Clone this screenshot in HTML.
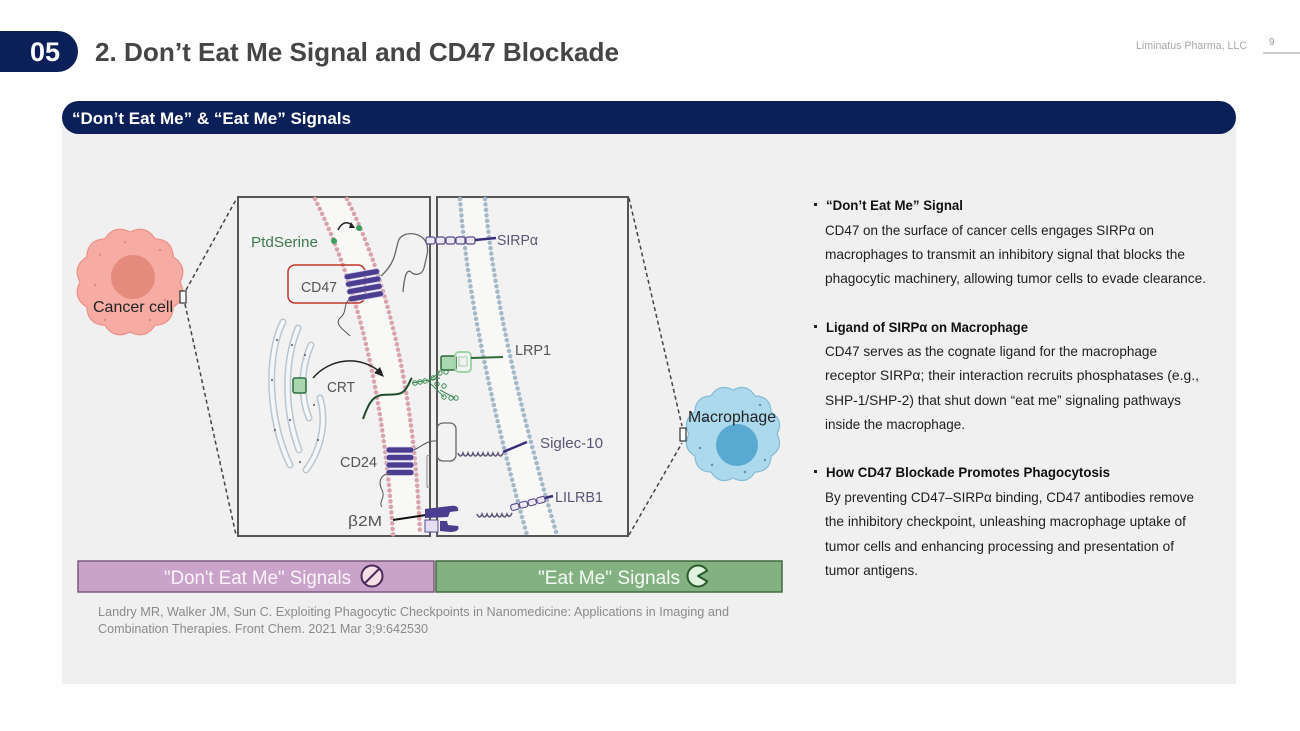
<!DOCTYPE html>
<html><head><meta charset="utf-8"><style>
html,body{margin:0;padding:0;background:#fefefe;}
svg{display:block;font-family:"Liberation Sans",Arial,sans-serif;}
</style></head><body>
<svg width="1300" height="731" viewBox="0 0 1300 731" xmlns="http://www.w3.org/2000/svg">
<rect width="1300" height="731" fill="#fefefe"/>
<!-- header -->
<path d="M0,31 H57.5 A20.5,20.5 0 0 1 57.5,72 H0 Z" fill="#0b2058"/>
<text x="45" y="61" font-size="27" font-weight="bold" fill="#fff" text-anchor="middle">05</text>
<text x="95" y="61" font-size="26" font-weight="bold" fill="#454545" textLength="524" lengthAdjust="spacingAndGlyphs">2. Don’t Eat Me Signal and CD47 Blockade</text>
<text x="1136" y="49" font-size="11" fill="#a8a8a8" textLength="111" lengthAdjust="spacingAndGlyphs">Liminatus Pharma, LLC</text>
<text x="1269" y="45" font-size="10" fill="#999">9</text>
<line x1="1263" y1="53" x2="1300" y2="53" stroke="#999" stroke-width="1"/>
<!-- panel -->
<rect x="62" y="118" width="1174" height="566" fill="#f0f0f0"/>
<rect x="62" y="101" width="1174" height="33" rx="16.5" fill="#0b2058"/>
<text x="72" y="124" font-size="17" font-weight="bold" fill="#fff" textLength="279" lengthAdjust="spacingAndGlyphs">“Don’t Eat Me” &amp; “Eat Me” Signals</text>

<!-- cancer cell -->
<path d="M180,282 Q188,297.5 173.3,307 Q172.4,324.4 155,325.3 Q145.5,339.9 130,332 Q114.5,339.9 105,325.3 Q87.6,324.4 86.7,307 Q72,297.5 80,282 Q72,266.5 86.7,257 Q87.6,239.6 105,238.7 Q114.5,224.1 130,232 Q145.5,224.1 155,238.7 Q172.4,239.6 173.3,257 Q188,266.5 180,282 Z" fill="#f6aba3" stroke="#eb9087" stroke-width="1.2"/>
<circle cx="133" cy="277" r="22" fill="#e58b7d"/>
<g fill="#d98a80"><circle cx="100" cy="255" r="1.2"/><circle cx="160" cy="250" r="1.2"/><circle cx="165" cy="300" r="1.2"/><circle cx="105" cy="320" r="1.2"/><circle cx="150" cy="320" r="1.2"/><circle cx="95" cy="285" r="1.2"/><circle cx="125" cy="242" r="1.2"/></g>
<text x="93" y="312" font-size="16" fill="#222" textLength="80" lengthAdjust="spacingAndGlyphs">Cancer cell</text>
<rect x="180" y="291" width="6" height="12" fill="#fff" stroke="#333" stroke-width="1.2"/>
<line x1="186" y1="290" x2="237" y2="198" stroke="#444" stroke-width="1.5" stroke-dasharray="4,3"/>
<line x1="185" y1="304" x2="236" y2="535" stroke="#444" stroke-width="1.5" stroke-dasharray="4,3"/>

<!-- macrophage -->
<line x1="629" y1="198" x2="682" y2="426" stroke="#444" stroke-width="1.5" stroke-dasharray="4,3"/>
<line x1="629" y1="535" x2="682" y2="443" stroke="#444" stroke-width="1.5" stroke-dasharray="4,3"/>
<path d="M777,434 Q784.2,447.7 771.1,456 Q770.5,471.5 755,472.1 Q746.7,485.2 733,478 Q719.3,485.2 711,472.1 Q695.5,471.5 694.9,456 Q681.8,447.7 689,434 Q681.8,420.3 694.9,412 Q695.5,396.5 711,395.9 Q719.3,382.8 733,390 Q746.7,382.8 755,395.9 Q770.5,396.5 771.1,412 Q784.2,420.3 777,434 Z" fill="#acd9ec" stroke="#84bcd6" stroke-width="1.2"/>
<circle cx="737" cy="445" r="21" fill="#5aa9d2"/>
<g fill="#5a90b0"><circle cx="705" cy="420" r="1.2"/><circle cx="760" cy="405" r="1.2"/><circle cx="765" cy="460" r="1.2"/><circle cx="712" cy="465" r="1.2"/><circle cx="745" cy="472" r="1.2"/><circle cx="700" cy="448" r="1.2"/></g>
<text x="688" y="422" font-size="16" fill="#222" textLength="88" lengthAdjust="spacingAndGlyphs">Macrophage</text>
<rect x="680" y="428" width="6" height="13" fill="#fff" stroke="#333" stroke-width="1.2"/>

<!-- boxes -->
<rect x="238" y="197" width="192" height="339" fill="#f2f2f2" stroke="#555" stroke-width="2"/>
<rect x="437" y="197" width="191" height="339" fill="#f2f2f2" stroke="#555" stroke-width="2"/>

<!-- membranes -->
<path d="M315,199 Q380,330 393,535 L420,535 Q412,330 347,199 Z" fill="#f8f8f6"/>
<path d="M315,199 Q380,330 393,535" fill="none" stroke="#d9a3ab" stroke-width="4.5" stroke-linecap="round" stroke-dasharray="0,5.5"/>
<path d="M347,199 Q412,330 420,535" fill="none" stroke="#d9a3ab" stroke-width="4.5" stroke-linecap="round" stroke-dasharray="0,5.5"/>
<path d="M460,199 Q470,330 527,535 L557,535 Q496,330 485,199 Z" fill="#f8f8f6"/>
<path d="M460,199 Q470,330 527,535" fill="none" stroke="#a3b9c8" stroke-width="4.5" stroke-linecap="round" stroke-dasharray="0,5.5"/>
<path d="M485,199 Q496,330 557,535" fill="none" stroke="#a3b9c8" stroke-width="4.5" stroke-linecap="round" stroke-dasharray="0,5.5"/>

<!-- ER -->
<g fill="none" stroke-linecap="round">
<g stroke="#b9c6cf" stroke-width="7">
<path d="M283,322 C266,355 268,420 290,465"/>
<path d="M298,328 C284,362 284,410 299,450"/>
<path d="M311,345 C300,370 301,398 309,418"/>
<path d="M320,398 C327,422 321,450 306,470"/>
</g>
<g stroke="#f4f6f7" stroke-width="4">
<path d="M283,322 C266,355 268,420 290,465"/>
<path d="M298,328 C284,362 284,410 299,450"/>
<path d="M311,345 C300,370 301,398 309,418"/>
<path d="M320,398 C327,422 321,450 306,470"/>
</g>
</g>
<g fill="#556"><circle cx="277" cy="340" r="1"/><circle cx="272" cy="380" r="1"/><circle cx="275" cy="430" r="1"/><circle cx="292" cy="345" r="1"/><circle cx="290" cy="420" r="1"/><circle cx="305" cy="355" r="1"/><circle cx="314" cy="405" r="1"/><circle cx="318" cy="440" r="1"/><circle cx="300" cy="462" r="1"/></g>

<!-- PtdSerine -->
<text x="251" y="247" font-size="15" fill="#3f7a50" textLength="67" lengthAdjust="spacingAndGlyphs">PtdSerine</text>
<circle cx="334" cy="241" r="3" fill="#3aa060"/>
<circle cx="359" cy="228" r="3" fill="#3aa060"/>
<path d="M338,230 Q344,218 353,226" fill="none" stroke="#222" stroke-width="1.5"/>
<path d="M351,222 L355,228 L349,228 Z" fill="#222"/>

<!-- CD47 -->
<rect x="288" y="265" width="77" height="38" rx="7" fill="none" stroke="#c0392b" stroke-width="1.5"/>
<text x="301" y="292" font-size="15" fill="#555" textLength="36" lengthAdjust="spacingAndGlyphs">CD47</text>
<g transform="translate(364,286) rotate(-10)" fill="#4b3d8f" stroke="#d8d2ee" stroke-width="0.8">
<rect x="-18" y="-15" width="36" height="6" rx="3"/>
<rect x="-18" y="-7.5" width="36" height="6" rx="3"/>
<rect x="-18" y="0" width="36" height="6" rx="3"/>
<rect x="-18" y="7.5" width="36" height="6" rx="3"/>
</g>
<path d="M350,299 C342,305 348,312 340,318 C334,324 344,330 350,336" fill="none" stroke="#555" stroke-width="1"/>
<path d="M381,276 C390,268 394,260 396,250 L398,242 C400,234 410,232 418,235 C426,238 429,246 427,255 L424,268 C422,275 415,276 411,272 C406,268 404,280 403,292" fill="none" stroke="#666" stroke-width="1.3"/>

<!-- SIRPa -->
<g fill="#ece8f4" stroke="#5a4a8a" stroke-width="1.2">
<rect x="426" y="237" width="9" height="7" rx="2"/>
<rect x="436" y="237" width="9" height="7" rx="2"/>
<rect x="446" y="237" width="9" height="7" rx="2"/>
<rect x="456" y="237" width="9" height="7" rx="2"/>
<rect x="466" y="237" width="9" height="7" rx="2"/>
</g>
<line x1="475" y1="240" x2="496" y2="238" stroke="#3a2d7a" stroke-width="2.5"/>
<text x="497" y="245" font-size="15" fill="#5c5475" textLength="41" lengthAdjust="spacingAndGlyphs">SIRPα</text>

<!-- CRT -->
<path d="M313,378 C330,358 360,355 380,372" fill="none" stroke="#222" stroke-width="1.5"/>
<path d="M384,377 L374,373 L380,367 Z" fill="#222"/>
<rect x="293" y="378" width="13" height="15" rx="2" fill="#a9d8b0" stroke="#2d6b3d" stroke-width="1.5"/>
<text x="327" y="392" font-size="15" fill="#555" textLength="28" lengthAdjust="spacingAndGlyphs">CRT</text>
<path d="M363,419 C368,405 372,396 382,395 C392,394 400,396 405,390 C409,385 410,380 412,378" fill="none" stroke="#1f4d2c" stroke-width="2"/>
<g fill="none" stroke="#3d8a55" stroke-width="1">
<path d="M412,383 L440,378 M428,381 L440,372 M428,381 L444,397 M440,390 L455,398"/>
<circle cx="415" cy="383" r="2.2"/><circle cx="420" cy="382" r="2.2"/><circle cx="425" cy="381" r="2.2"/>
<circle cx="433" cy="378" r="2.2"/><circle cx="440" cy="373" r="2.2"/><circle cx="446" cy="372" r="2.2"/>
<circle cx="444" cy="386" r="2.2"/><circle cx="444" cy="397" r="2.2"/><circle cx="451" cy="398" r="2.2"/><circle cx="456" cy="398" r="2.2"/>
<circle cx="437" cy="384" r="2.2"/>
</g>
<!-- LRP1 -->
<rect x="441" y="356" width="15" height="14" rx="1.5" fill="#a9d8b0" stroke="#2d6b3d" stroke-width="1.5"/>
<rect x="455" y="352" width="16" height="20" rx="4" fill="none" stroke="#9fd3a8" stroke-width="2"/>
<rect x="459" y="357" width="8" height="9" fill="none" stroke="#9fd3a8" stroke-width="1"/>
<line x1="471" y1="358" x2="503" y2="357" stroke="#2d6b3d" stroke-width="2"/>
<text x="515" y="355" font-size="15" fill="#555" textLength="36" lengthAdjust="spacingAndGlyphs">LRP1</text>

<!-- CD24 -->
<text x="340" y="467" font-size="15" fill="#555" textLength="37" lengthAdjust="spacingAndGlyphs">CD24</text>
<g fill="#4b3d8f" stroke="#d8d2ee" stroke-width="0.8">
<rect x="386" y="447" width="28" height="6" rx="3"/>
<rect x="386" y="454.5" width="28" height="6" rx="3"/>
<rect x="386" y="462" width="28" height="6" rx="3"/>
<rect x="386" y="469.5" width="28" height="6" rx="3"/>
</g>
<path d="M391,473 C380,474 378,482 382,490 C386,498 378,502 382,507" fill="none" stroke="#555" stroke-width="1"/>
<path d="M414,450 C422,446 428,440 437,441" fill="none" stroke="#555" stroke-width="1"/>
<!-- Siglec-10 -->
<rect x="437" y="423" width="19" height="38" rx="6" fill="none" stroke="#666" stroke-width="1.3"/>
<path d="M430,455 L427,456 L427,487 L430,487" fill="none" stroke="#888" stroke-width="1"/>
<path d="M458,453 q2.5,6 5,0 q2.5,6 5,0 q2.5,6 5,0 q2.5,6 5,0 q2.5,6 5,0 q2.5,6 5,0 q2.5,6 5,0 q2.5,6 5,0 q2.5,6 5,0" fill="none" stroke="#5c5475" stroke-width="1.6"/>
<line x1="503" y1="452" x2="527" y2="442" stroke="#3a2d7a" stroke-width="2.5"/>
<text x="540" y="448" font-size="15" fill="#5c5475" textLength="63" lengthAdjust="spacingAndGlyphs">Siglec-10</text>

<!-- LILRB1 -->
<path d="M477,514 q2.5,6 5,0 q2.5,6 5,0 q2.5,6 5,0 q2.5,6 5,0 q2.5,6 5,0 q2.5,6 5,0 q2.5,5 5,-1" fill="none" stroke="#5c5475" stroke-width="1.6"/>
<g transform="translate(511,508) rotate(-15)" fill="#ece8f4" stroke="#5a4a8a" stroke-width="1.1">
<rect x="0" y="-3" width="8" height="6" rx="2"/>
<rect x="9" y="-3" width="8" height="6" rx="2"/>
<rect x="18" y="-3" width="8" height="6" rx="2"/>
<rect x="27" y="-3" width="8" height="6" rx="2"/>
</g>
<line x1="545" y1="498" x2="553" y2="496" stroke="#3a2d7a" stroke-width="2.5"/>
<text x="555" y="502" font-size="15" fill="#5c5475" textLength="48" lengthAdjust="spacingAndGlyphs">LILRB1</text>

<!-- b2M -->
<text x="348" y="526" font-size="15" fill="#555" textLength="34" lengthAdjust="spacingAndGlyphs">β2M</text>
<line x1="393" y1="520" x2="426" y2="515" stroke="#111" stroke-width="2"/>
<path d="M425,509 L450,506 C456,505 459,507 458,511 L450,512 L448,517 L425,518 Z" fill="#4b3d8f"/>
<path d="M440,521 L447,521 L448,525 L458,526 C460,530 456,532 450,532 L440,531 Z" fill="#4b3d8f"/>
<rect x="425" y="520" width="13" height="12" fill="#e4e0f2" stroke="#5a4a8a" stroke-width="1"/>

<!-- bottom bars -->
<rect x="78" y="561" width="356" height="31" fill="#c9a3c9" stroke="#7d5b7d" stroke-width="1.5"/>
<text x="164" y="584" font-size="19" fill="#fbf5fb" textLength="187" lengthAdjust="spacingAndGlyphs">"Don't Eat Me" Signals</text>
<circle cx="372" cy="576" r="10.5" fill="#f6dde6" stroke="#4a2a5a" stroke-width="2"/>
<line x1="365" y1="583" x2="379" y2="569" stroke="#4a2a5a" stroke-width="2"/>
<rect x="436" y="561" width="346" height="31" fill="#84b182" stroke="#3e6b3e" stroke-width="1.5"/>
<text x="538" y="584" font-size="19" fill="#f5fbf5" textLength="142" lengthAdjust="spacingAndGlyphs">"Eat Me" Signals</text>
<path d="M698,576 L707.1,570.75 A10.5,10.5 0 1 0 707.1,581.25 Z" fill="#dff3df" stroke="#2a5a2a" stroke-width="2" stroke-linejoin="round"/>

<!-- citation -->
<text x="98" y="616" font-size="13" fill="#8a8a8a" textLength="631" lengthAdjust="spacingAndGlyphs">Landry MR, Walker JM, Sun C. Exploiting Phagocytic Checkpoints in Nanomedicine: Applications in Imaging and</text>
<text x="98" y="633" font-size="13" fill="#8a8a8a" textLength="330" lengthAdjust="spacingAndGlyphs">Combination Therapies. Front Chem. 2021 Mar 3;9:642530</text>

<!-- right text -->
<g font-size="14" fill="#1e1e1e">
<rect x="814" y="203" width="3" height="3" fill="#222"/>
<text x="826" y="210" font-weight="bold" fill="#111" textLength="137" lengthAdjust="spacingAndGlyphs">“Don’t Eat Me” Signal</text>
<text x="825" y="235" textLength="329" lengthAdjust="spacingAndGlyphs">CD47 on the surface of cancer cells engages SIRPα on</text>
<text x="825" y="259" textLength="360" lengthAdjust="spacingAndGlyphs">macrophages to transmit an inhibitory signal that blocks the</text>
<text x="825" y="283" textLength="381" lengthAdjust="spacingAndGlyphs">phagocytic machinery, allowing tumor cells to evade clearance.</text>
<rect x="814" y="325" width="3" height="3" fill="#222"/>
<text x="826" y="332" font-weight="bold" fill="#111" textLength="202" lengthAdjust="spacingAndGlyphs">Ligand of SIRPα on Macrophage</text>
<text x="825" y="356" textLength="332" lengthAdjust="spacingAndGlyphs">CD47 serves as the cognate ligand for the macrophage</text>
<text x="825" y="380" textLength="374" lengthAdjust="spacingAndGlyphs">receptor SIRPα; their interaction recruits phosphatases (e.g.,</text>
<text x="825" y="405" textLength="356" lengthAdjust="spacingAndGlyphs">SHP-1/SHP-2) that shut down “eat me” signaling pathways</text>
<text x="825" y="429" textLength="140" lengthAdjust="spacingAndGlyphs">inside the macrophage.</text>
<rect x="814" y="470" width="3" height="3" fill="#222"/>
<text x="826" y="477" font-weight="bold" fill="#111" textLength="284" lengthAdjust="spacingAndGlyphs">How CD47 Blockade Promotes Phagocytosis</text>
<text x="825" y="502" textLength="369" lengthAdjust="spacingAndGlyphs">By preventing CD47–SIRPα binding, CD47 antibodies remove</text>
<text x="825" y="526" textLength="361" lengthAdjust="spacingAndGlyphs">the inhibitory checkpoint, unleashing macrophage uptake of</text>
<text x="825" y="551" textLength="349" lengthAdjust="spacingAndGlyphs">tumor cells and enhancing processing and presentation of</text>
<text x="825" y="575" textLength="93" lengthAdjust="spacingAndGlyphs">tumor antigens.</text>
</g>
</svg>
</body></html>
